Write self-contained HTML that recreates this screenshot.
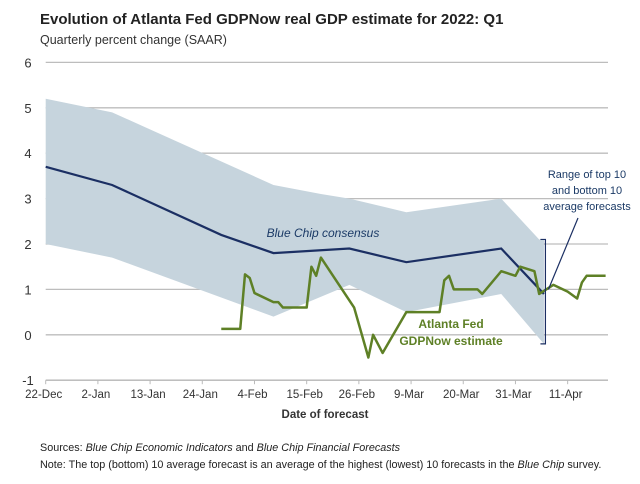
<!DOCTYPE html>
<html><head><meta charset="utf-8"><style>
html,body{margin:0;padding:0;background:#fff;}
svg{display:block;font-family:"Liberation Sans",sans-serif;}
</style></head><body>
<svg id="chart" width="640" height="484" viewBox="0 0 640 484">
<text x="40" y="24" font-size="15" font-weight="bold" fill="#222">Evolution of Atlanta Fed GDPNow real GDP estimate for 2022: Q1</text>
<text x="40" y="44" font-size="12.5" fill="#333">Quarterly percent change (SAAR)</text>
<g id="grid"></g>
<g id="band"></g>
<g id="series"></g>
<g id="annot"></g>
<text x="325" y="418" font-size="11.5" font-weight="bold" fill="#333" text-anchor="middle">Date of forecast</text>
<text x="40" y="451" font-size="10.8" fill="#222">Sources: <tspan font-style="italic">Blue Chip Economic Indicators</tspan> and <tspan font-style="italic">Blue Chip Financial Forecasts</tspan></text>
<text x="40" y="468" font-size="10.8" fill="#222">Note: The top (bottom) 10 average forecast is an average of the highest (lowest) 10 forecasts in the <tspan font-style="italic">Blue Chip</tspan> survey.</text>
</svg>
<script>
const yTicks=[-1,0,1,2,3,4,5,6];
const xTickLabels=["22-Dec","2-Jan","13-Jan","24-Jan","4-Feb","15-Feb","26-Feb","9-Mar","20-Mar","31-Mar","11-Apr"];
const xTickDays=[0,11,22,33,44,55,66,77,88,99,110];
const bcDays=[0,14,37,48,64,76,96,105];
const bcValues=[3.7,3.3,2.2,1.8,1.9,1.6,1.9,0.9];
const bandDays=[0,14,48,58,64,76,96,104,105];
const bandTop=[5.2,4.9,3.3,3.1,3.0,2.7,3.0,2.1,2.1];
const bandBottomDays=[0,14,48,64,76,96,105];
const bandBottom=[2.0,1.7,0.4,1.1,0.5,0.9,-0.2];
const gdpDays=[37,41,42,43,44,48,49,50,55,56,57,58,65,68,69,71,76,83,84,85,86,91,92,96,99,100,103,104,107,110,112,113,114,118];
const gdpValues=[0.13,0.13,1.33,1.25,0.92,0.72,0.72,0.6,0.6,1.5,1.3,1.7,0.6,-0.5,0.0,-0.4,0.5,0.5,1.2,1.3,1.0,1.0,0.9,1.4,1.3,1.5,1.4,0.9,1.1,0.95,0.8,1.15,1.3,1.3];

const NS="http://www.w3.org/2000/svg";
const x0=45.7,ppd=4.745,xEnd=608;
const X=d=>x0+d*ppd;
const Y=v=>334.8-v*45.4;
function mk(tag,attrs,parent){const e=document.createElementNS(NS,tag);for(const k in attrs)e.setAttribute(k,attrs[k]);parent.appendChild(e);return e;}
const grid=document.getElementById('grid');
yTicks.forEach(v=>{
  const l=mk('line',{x1:x0,x2:xEnd,y1:Y(v),y2:Y(v),stroke:v===-1?'#b5b5b5':'#bdbdbd','stroke-width':1.3},grid);
  
  
  const t=mk('text',{x:28,y:Y(v)+5,'font-size':13,fill:'#333','text-anchor':'middle'},grid);
  t.textContent=v;
  
  
});
xTickDays.forEach((d,i)=>{
  const tk=mk('line',{x1:X(d),x2:X(d),y1:Y(-1),y2:Y(-1)+4,stroke:'#bbb'},grid);
  
  
  const t=mk('text',{x:X(d)-2,y:398,'font-size':11.5,fill:'#333','text-anchor':'middle'},grid);
  t.textContent=xTickLabels[i];
  
  
});
let pts=bandDays.map((d,i)=>X(d)+','+Y(bandTop[i]));
for(let i=bandBottomDays.length-1;i>=0;i--)pts.push(X(bandBottomDays[i])+','+Y(bandBottom[i]));
const band=mk('polygon',{points:pts.join(' '),fill:'#c6d4dd'},document.getElementById('band'));


const ser=document.getElementById('series');
const bc=mk('polyline',{points:bcDays.map((d,i)=>X(d)+','+Y(bcValues[i])).join(' '),fill:'none',stroke:'#1b2f63','stroke-width':2.2},ser);


const gl=mk('polyline',{points:gdpDays.map((d,i)=>X(d)+','+Y(gdpValues[i])).join(' '),fill:'none',stroke:'#5e8026','stroke-width':2.5,'stroke-linejoin':'round'},ser);


const an=document.getElementById('annot');
const bx=X(105)+1.5;
const br=mk('path',{d:`M${bx-5},${Y(2.1)} H${bx} V${Y(-0.2)} H${bx-5}`,fill:'none',stroke:'#1b2f63','stroke-width':1.2},an);


const ld=mk('line',{x1:bx+3,y1:Y(1),x2:578,y2:218,stroke:'#1b2f63','stroke-width':1.2},an);


["Range of top 10","and bottom 10","average forecasts"].forEach((s,i)=>{
  const t=mk('text',{x:587,y:178+i*16,'font-size':11,fill:'#1b3a66','text-anchor':'middle'},an);
  t.textContent=s;
  
  
});
const bcl=mk('text',{x:323,y:237,'font-size':12,'font-style':'italic',fill:'#1b3a66','text-anchor':'middle'},an);
bcl.textContent='Blue Chip consensus';


["Atlanta Fed","GDPNow estimate"].forEach((s,i)=>{
  const t=mk('text',{x:451,y:328+i*17,'font-size':12,'font-weight':'bold',fill:'#5e8026','text-anchor':'middle'},an);
  t.textContent=s;
  
  
});
</script>
</body></html>
